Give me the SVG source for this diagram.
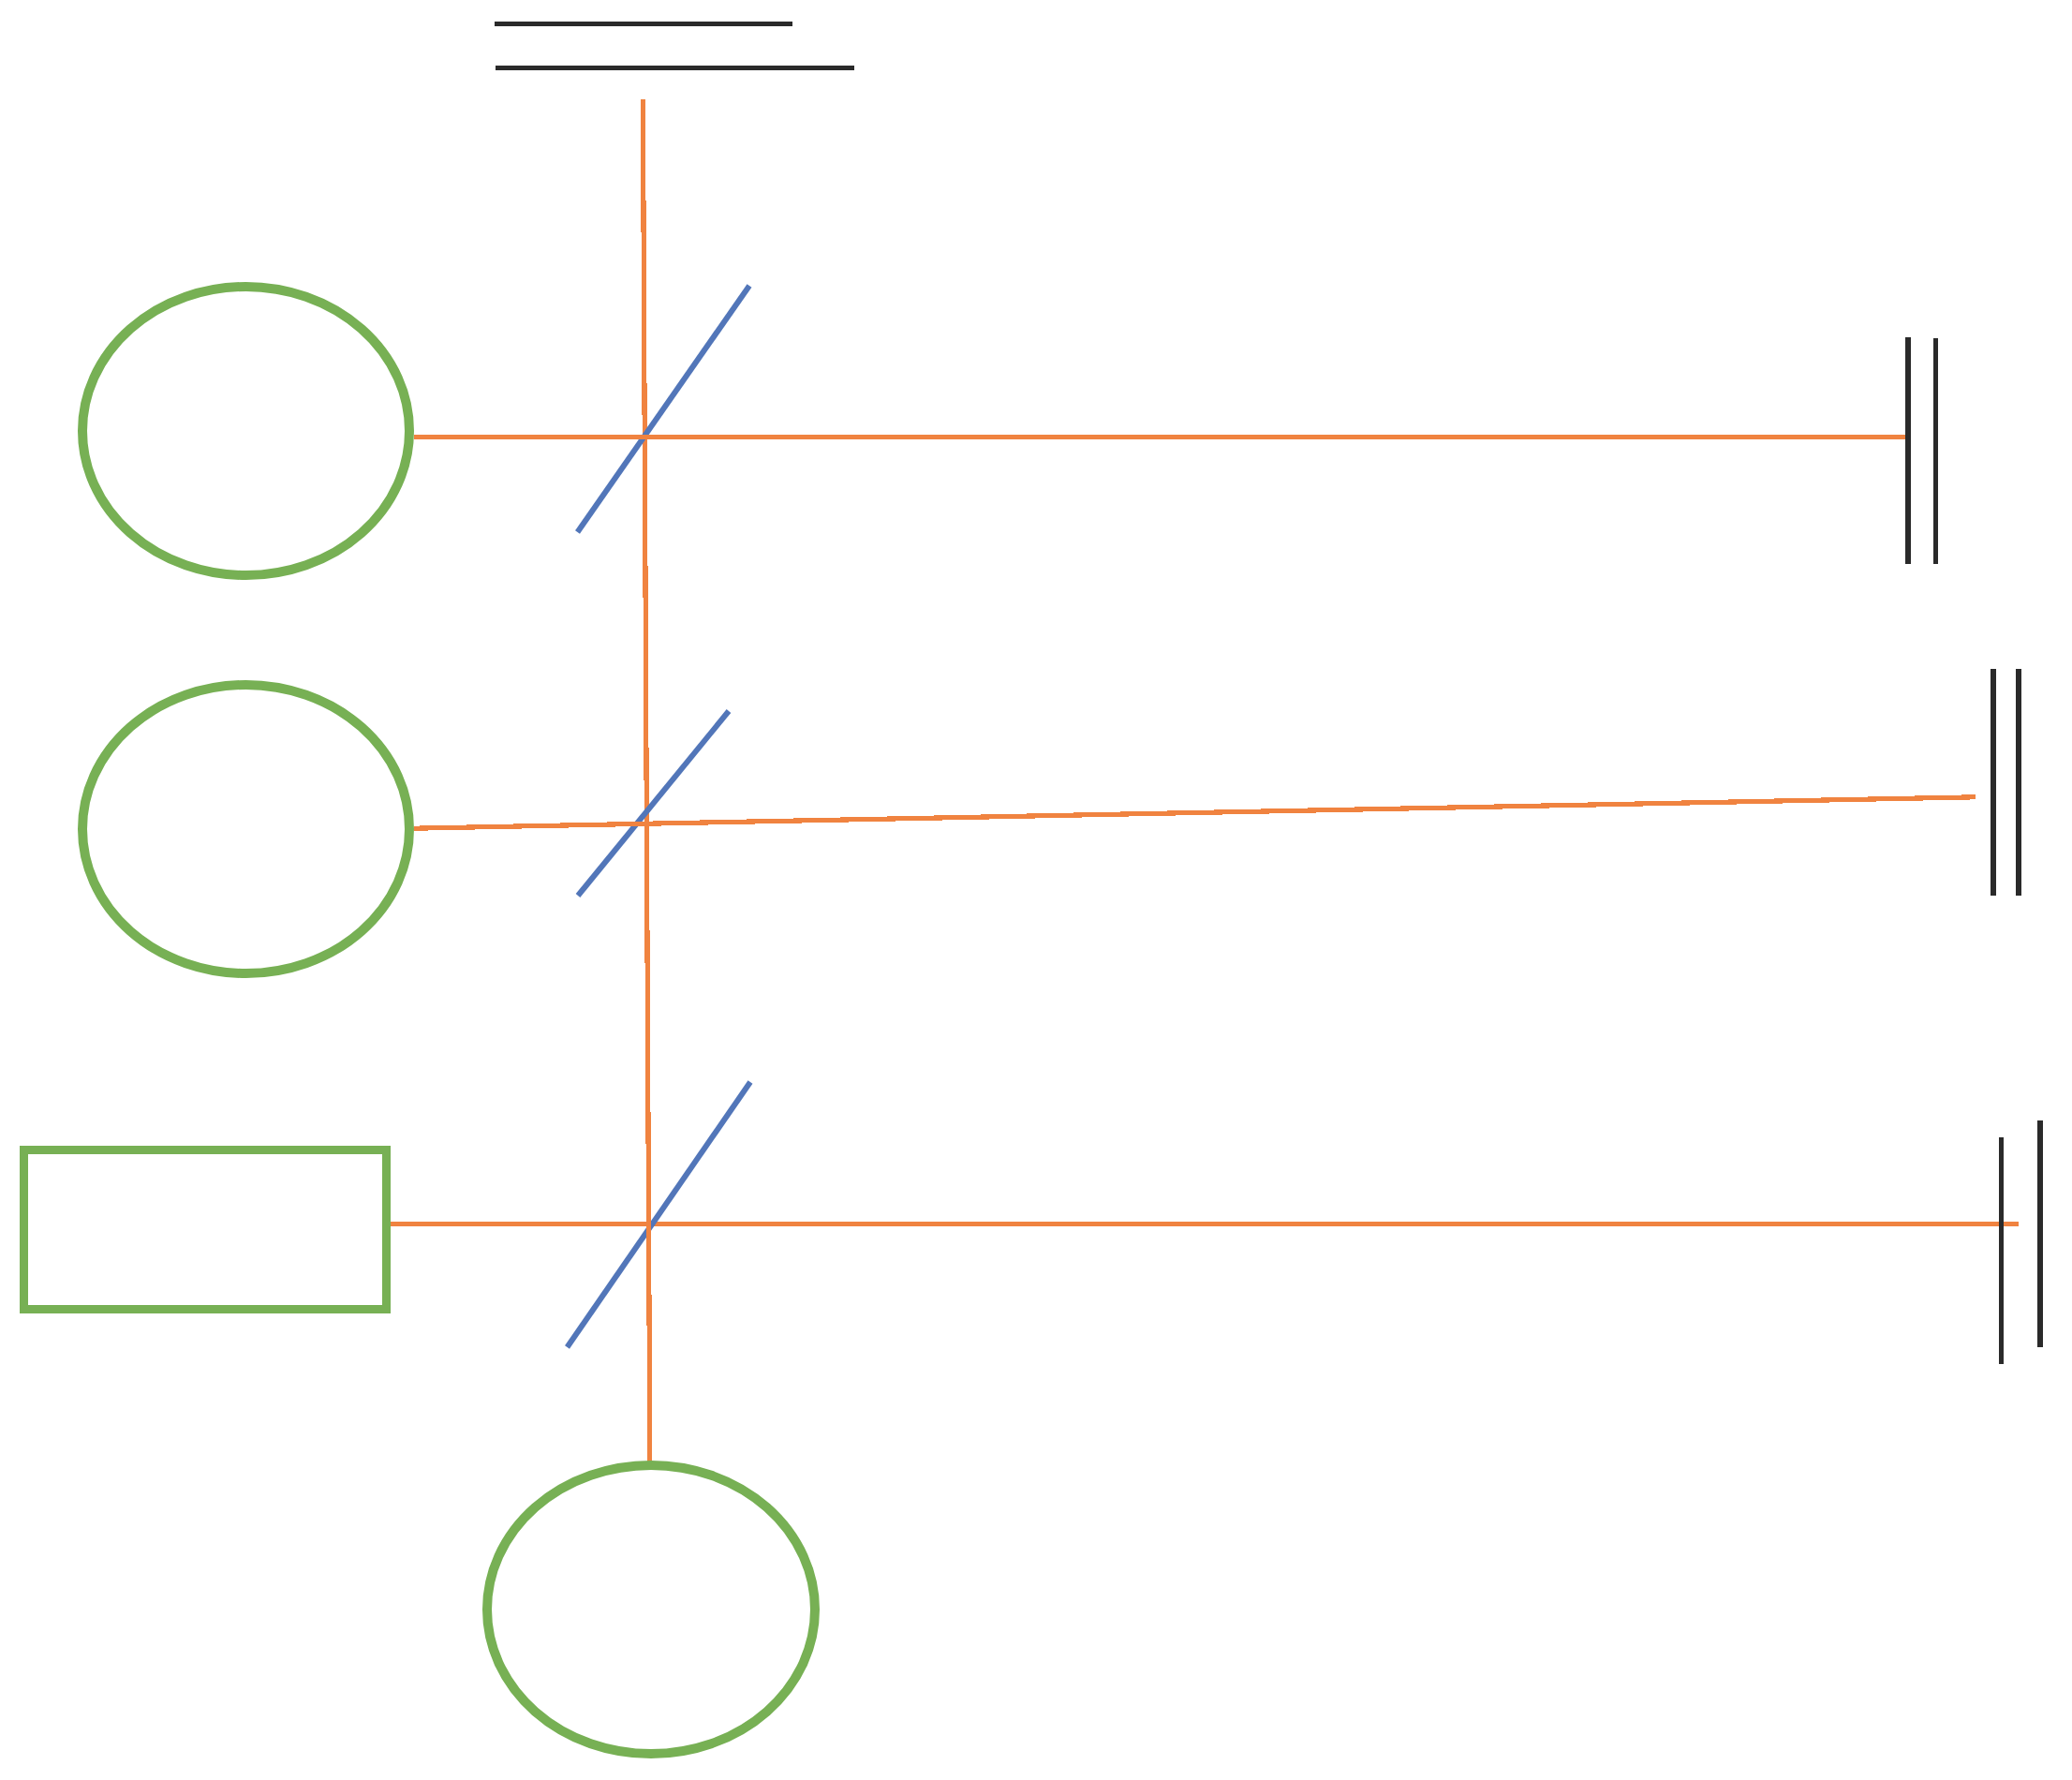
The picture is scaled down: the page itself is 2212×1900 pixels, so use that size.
<svg xmlns="http://www.w3.org/2000/svg" width="2212" height="1900" viewBox="0 0 2212 1900">
<style>
.node{fill:none;stroke:#77b054;stroke-width:10}
.box{stroke-width:9}
.beam{fill:#f08340;stroke:none;shape-rendering:crispEdges}
.mirror{fill:none;stroke:#5276b9;stroke-width:6}
.plate{fill:none;stroke:#2a2a2a}
</style>
<rect width="2212" height="1900" fill="#fff"/>
<g id="connectors">
<rect id="beam-3" class="beam" x="417" y="1304" width="1738" height="5"/>
<line id="mirror-3" class="mirror" x1="801" y1="1155" x2="605.5" y2="1438"/>
<path id="beam-vertical" class="beam" d="M684 106h5v142h-5zM685 214h5v229h-5zM686 409h5v229h-5zM687 604h5v229h-5zM688 798h5v230h-5zM689 993h5v228h-5zM690 1187h5v228h-5zM691 1382h5v180h-5z"/>
<line id="mirror-1" class="mirror" x1="800" y1="305" x2="616.5" y2="568"/>
<line id="mirror-2" class="mirror" x1="778" y1="759" x2="617" y2="956"/>
<rect id="beam-1" class="beam" x="442" y="464" width="1592" height="5"/>
<path id="beam-2" class="beam" d="M442 882H457V887H442zM448 881H507V886H448zM498 880H557V885H498zM548 879H607V884H548zM598 878H657V883H598zM648 877H706V882H648zM697 876H756V881H697zM747 875H806V880H747zM797 874H856V879H797zM847 873H906V878H847zM897 872H956V877H897zM947 871H1006V876H947zM997 870H1056V875H997zM1047 869H1105V874H1047zM1096 868H1155V873H1096zM1146 867H1205V872H1146zM1196 866H1255V871H1196zM1246 865H1305V870H1246zM1296 864H1355V869H1296zM1346 863H1405V868H1346zM1396 862H1455V867H1396zM1446 861H1504V866H1446zM1495 860H1554V865H1495zM1545 859H1604V864H1545zM1595 858H1654V863H1595zM1645 857H1704V862H1645zM1695 856H1754V861H1695zM1745 855H1804V860H1745zM1795 854H1854V859H1795zM1845 853H1903V858H1845zM1894 852H1953V857H1894zM1944 851H2003V856H1944zM1994 850H2053V855H1994zM2044 849H2103V854H2044zM2094 848H2109V853H2094z"/>
</g>
<g id="node-ellipse-1"><ellipse class="node" cx="262.5" cy="460" rx="174.5" ry="154"/></g>
<g id="node-ellipse-2"><ellipse class="node" cx="262.5" cy="885" rx="174.5" ry="154"/></g>
<g id="node-rect"><rect class="node box" x="25.5" y="1227.5" width="387" height="170"/></g>
<g id="node-ellipse-3"><ellipse class="node" cx="695" cy="1718" rx="175" ry="154"/></g>
<g id="plates-top">
<line class="plate" stroke-width="5" x1="528" y1="25.5" x2="846" y2="25.5"/>
<line class="plate" stroke-width="5" x1="529" y1="72.5" x2="912" y2="72.5"/>
</g>
<g id="plates-1">
<line class="plate" stroke-width="6" x1="2037" y1="360" x2="2037" y2="602"/>
<line class="plate" stroke-width="5" x1="2066.5" y1="361" x2="2066.5" y2="602"/>
</g>
<g id="plates-2">
<line class="plate" stroke-width="6" x1="2128" y1="714" x2="2128" y2="956"/>
<line class="plate" stroke-width="6" x1="2155" y1="714" x2="2155" y2="956"/>
</g>
<g id="plates-3">
<line class="plate" stroke-width="5" x1="2136.5" y1="1214" x2="2136.5" y2="1456"/>
<line class="plate" stroke-width="6" x1="2178" y1="1196" x2="2178" y2="1438"/>
</g>
</svg>
